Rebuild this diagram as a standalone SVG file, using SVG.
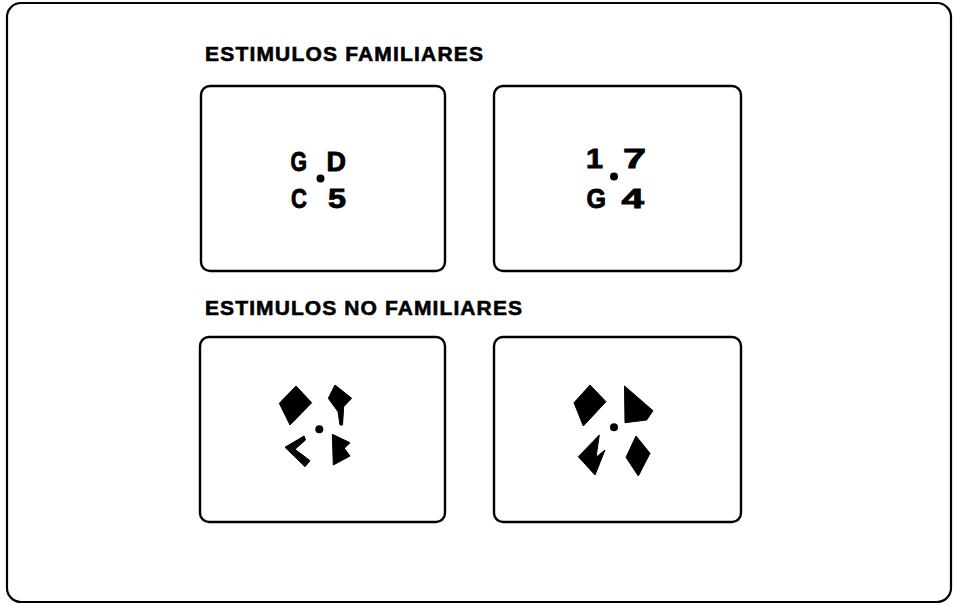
<svg xmlns="http://www.w3.org/2000/svg" width="953" height="605" viewBox="0 0 953 605">
<style>
.frame{fill:none;stroke:#000;stroke-width:2.2}
.box{fill:none;stroke:#000;stroke-width:2.4}
.title{font-family:"Liberation Sans",Arial,sans-serif;font-weight:bold;font-size:21px;fill:#000;stroke:#000;stroke-width:0.6}
.ch{font-family:"Liberation Sans",Arial,sans-serif;font-weight:bold;font-size:28px;fill:#000;stroke:#000;stroke-width:0.9}
.sh{fill:#000;stroke:#000;stroke-width:1;stroke-linejoin:round}
</style>
<rect width="953" height="605" fill="#fff"/>
<g id="frame"><rect class="frame" x="7" y="3" width="944" height="599" rx="14"/></g>
<g id="title-familiares"><text class="title" x="205" y="61" textLength="278" lengthAdjust="spacing">ESTIMULOS FAMILIARES</text></g>
<g id="title-no-familiares"><text class="title" x="205" y="315" textLength="317" lengthAdjust="spacing">ESTIMULOS NO FAMILIARES</text></g>
<g id="box1">
<rect class="box" x="201" y="86" width="244" height="185" rx="9"/>
<text class="ch" x="290.5" y="171" textLength="16.5" lengthAdjust="spacingAndGlyphs">G</text>
<text class="ch" x="326.5" y="171" textLength="19.5" lengthAdjust="spacingAndGlyphs">D</text>
<text class="ch" x="291" y="208" textLength="16" lengthAdjust="spacingAndGlyphs">C</text>
<text class="ch" x="328" y="208" textLength="18" lengthAdjust="spacingAndGlyphs">5</text>
<circle cx="320.5" cy="178.5" r="4"/>
</g>
<g id="box2">
<rect class="box" x="494" y="86" width="247" height="185" rx="9"/>
<text class="ch" x="586" y="168" textLength="17" lengthAdjust="spacingAndGlyphs">1</text>
<text class="ch" x="623" y="168" textLength="23" lengthAdjust="spacingAndGlyphs">7</text>
<text class="ch" x="586.5" y="208" textLength="19.5" lengthAdjust="spacingAndGlyphs">G</text>
<text class="ch" x="621.5" y="208" textLength="22.5" lengthAdjust="spacingAndGlyphs">4</text>
<circle cx="614" cy="176.5" r="4"/>
</g>
<g id="box3">
<rect class="box" x="200" y="337" width="245" height="185" rx="9"/>
<polygon class="sh" points="279.3,403.3 296,386 311.7,402.7 290,425"/>
<polygon class="sh" points="335,385 351.7,398.3 343.7,406.7 342.5,425 340,425 338,411.7 328.3,398.3"/>
<polygon class="sh" points="304,436 285,447.3 305,466.7 310,460.7 295,449.3 305.5,440"/>
<polygon class="sh" points="332.3,434.3 350,442.7 344.3,448.3 350,456 333.3,465"/>
<circle cx="319.3" cy="429.3" r="4"/>
</g>
<g id="box4">
<rect class="box" x="494" y="337" width="247" height="185" rx="9"/>
<polygon class="sh" points="574,402.7 590,385 606,401.7 583.3,426"/>
<polygon class="sh" points="624.5,386 653,410.7 646.7,420 625,422.7"/>
<polygon class="sh" points="599.3,435 578.3,456.7 595,475 605,450 596,457.3"/>
<polygon class="sh" points="636,436 650,453.3 638.3,476 626,457.3"/>
<circle cx="614" cy="427.3" r="4"/>
</g>
<g id="connectors"/>
</svg>
